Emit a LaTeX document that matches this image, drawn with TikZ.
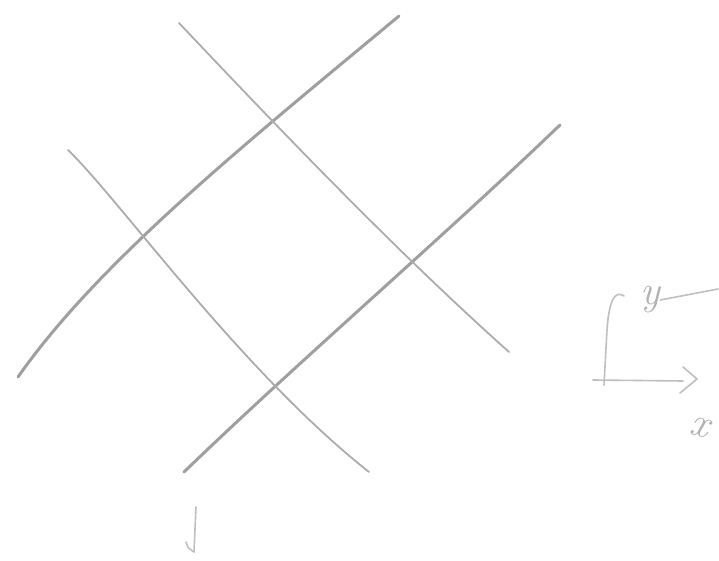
\documentclass[tikz,border=0pt]{standalone}
\usepackage{tikz}

\begin{document}
\begin{tikzpicture}[
  x=0.5pt, y=-0.5pt,
  thickline/.style={draw=gray!75, line width=1.5pt, line cap=round},
  thinline/.style={draw=gray!65, line width=0.9pt, line cap=round},
  sketch/.style={draw=gray!50, line width=0.8pt, line cap=round, line join=round},
  handlabel/.style={text=gray!60, font=\huge\itshape, inner sep=0pt}
]
\useasboundingbox (0,0) rectangle (719,561);

% lines rising to the right
\draw[thickline] (18,377) .. controls (100,260) and (250,140) .. (399,16);
\draw[thickline] (184,472) .. controls (300,360) and (440,240) .. (560,125);

% lines falling to the right
\draw[thinline] (68,150) .. controls (120,200) and (240,370) .. (369,472);
\draw[thinline] (179,23) .. controls (285,135) and (395,250) .. (509,352);

% axis sketch
\coordinate (o) at (604,385);
\coordinate (xend) at (683,381);
\draw[sketch] (593,380) -- (xend);
\draw[sketch] (683,367) -- (697,379) -- (680,393);
\draw[sketch] (o) -- (607,330) .. controls (609,300) and (615,290) .. (624,296);
\node[handlabel] (ylab) at (650,300) {y};
\draw[sketch] (ylab.east) -- (718,289);
\node[handlabel, rotate=-15] (xlab) at (700,427) {x};

% small arrow at the bottom
\coordinate (ta) at (196,507);
\coordinate (tb) at (194,552);
\draw[sketch] (ta) -- (tb);
\draw[sketch] (186,542) .. controls (188,548) .. (tb);
\end{tikzpicture}
\end{document}
